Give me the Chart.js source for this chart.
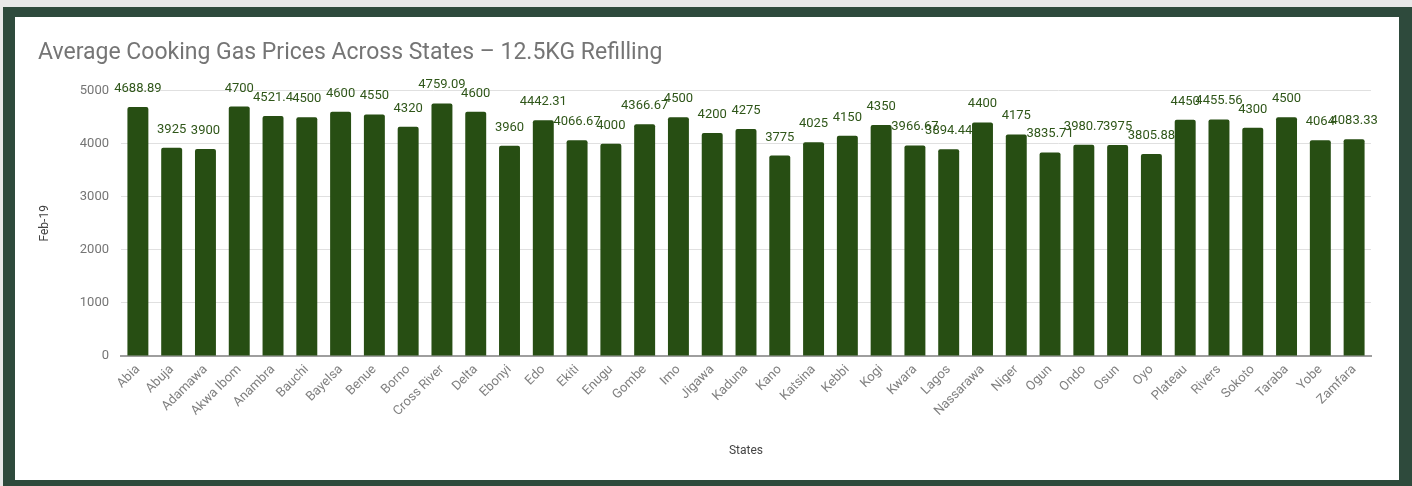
<!DOCTYPE html>
<html>
<head>
<meta charset="utf-8">
<script src="https://cdn.jsdelivr.net/npm/chart.js@4"></script>
<style>
  body { margin: 0; background: #e8e8e8; width: 1412px; height: 486px; overflow: hidden; }
  #frame { position: absolute; left: 3px; top: 7px; width: 1409px; height: 479px; background: #2e4a3c; }
  #inner { position: absolute; left: 12px; top: 10px; width: 1384px; height: 463px; background: #fff; }
</style>
</head>
<body>
<div id="frame"><div id="inner"><canvas id="gasChart"></canvas></div></div>
<script>
const states = ["Abia", "Abuja", "Adamawa", "Akwa Ibom", "Anambra", "Bauchi", "Bayelsa", "Benue", "Borno",
  "Cross River", "Delta", "Ebonyi", "Edo", "Ekiti", "Enugu", "Gombe", "Imo", "Jigawa", "Kaduna", "Kano",
  "Katsina", "Kebbi", "Kogi", "Kwara", "Lagos", "Nassarawa", "Niger", "Ogun", "Ondo", "Osun", "Oyo",
  "Plateau", "Rivers", "Sokoto", "Taraba", "Yobe", "Zamfara"];
const feb19Prices = [4688.89, 3925, 3900, 4700, 4521.4, 4500, 4600, 4550, 4320,
  4759.09, 4600, 3960, 4442.31, 4066.67, 4000, 4366.67, 4500, 4200, 4275, 3775,
  4025, 4150, 4350, 3966.67, 3894.44, 4400, 4175, 3835.71, 3980.7, 3975, 3805.88,
  4450, 4455.56, 4300, 4500, 4064, 4083.33];
const yTicks = [0, 1000, 2000, 3000, 4000, 5000];

// value labels above each bar
const barLabels = {
  id: "barLabels",
  afterDatasetsDraw(chart) {
    const ctx = chart.ctx;
    const meta = chart.getDatasetMeta(0);
    ctx.save();
    ctx.font = "13px Roboto";
    ctx.fillStyle = "#2f5619";
    ctx.textAlign = "center";
    ctx.textBaseline = "alphabetic";
    meta.data.forEach((bar, i) => {
      ctx.fillText(String(feb19Prices[i]), bar.x, bar.y - 15);
    });
    ctx.restore();
  }
};

const ctx = document.getElementById("gasChart").getContext("2d");
new Chart(ctx, {
  type: "bar",
  data: {
    labels: states,
    datasets: [
      {
        label: "Feb-19",
        data: feb19Prices,
        backgroundColor: "#274e13",
        borderRadius: 2,
        borderSkipped: "bottom",
        barPercentage: 0.62,
        categoryPercentage: 1,
      },
    ],
  },
  options: {
    responsive: true,
    maintainAspectRatio: false,
    animation: false,
    layout: { padding: { left: 23, right: 28, top: 0, bottom: 18 } },
    plugins: {
      legend: { display: false },
      tooltip: { enabled: false },
      title: {
        display: true,
        text: "Average Cooking Gas Prices Across States \u2013 12.5KG Refilling",
        align: "start",
        color: "#757575",
        font: { family: "Roboto", size: 23, weight: "normal" },
        padding: { top: 22, bottom: 24 },
      },
    },
    scales: {
      x: {
        afterFit: (scale) => { scale.height = 106; },
        grid: { display: false, drawTicks: false },
        border: { display: true, color: "#9e9e9e", width: 2 },
        ticks: {
          minRotation: 45,
          maxRotation: 45,
          autoSkip: false,
          padding: 6,
          color: "#808080",
          font: { family: "Roboto", size: 13 },
        },
        title: {
          display: true,
          text: "States",
          color: "#444",
          font: { family: "Roboto", size: 12 },
          padding: { top: 4, bottom: 4 },
        },
      },
      y: {
        min: 0,
        max: 5000,
        afterFit: (scale) => { scale.width = 83; },
        afterBuildTicks: (scale) => { scale.ticks = yTicks.map((v) => ({ value: v })); },
        grid: { color: "#e0e0e0", drawTicks: false },
        border: { display: false },
        ticks: {
          padding: 12,
          color: "#757575",
          font: { family: "Roboto", size: 13 },
          callback: (v) => String(v),
        },
        title: {
          display: true,
          text: "Feb-19",
          color: "#444",
          font: { family: "Roboto", size: 12 },
          padding: { top: 0, bottom: 4 },
        },
      },
    },
  },
  plugins: [barLabels],
});
</script>
</body>
</html>
